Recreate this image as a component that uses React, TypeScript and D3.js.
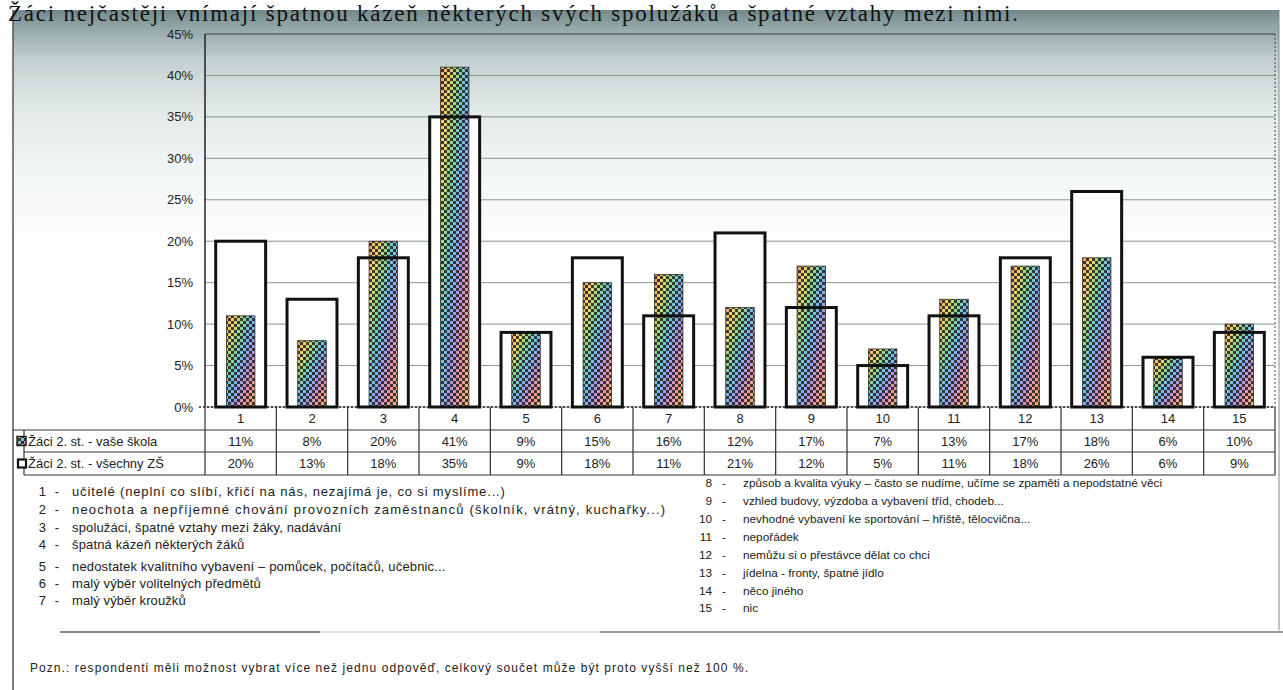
import React from "react";
import * as d3 from "d3";

// values (percent)
const categories = ["1", "2", "3", "4", "5", "6", "7", "8", "9", "10", "11", "12", "13", "14", "15"];
const schoolValues = [11, 8, 20, 41, 9, 15, 16, 12, 17, 7, 13, 17, 18, 6, 10];
const allValues = [20, 13, 18, 35, 9, 18, 11, 21, 12, 5, 11, 18, 26, 6, 9];
const yTicks = [0, 5, 10, 15, 20, 25, 30, 35, 40, 45];
const seriesNames = ["Žáci 2. st. - vaše škola", "Žáci 2. st. - všechny ZŠ"];

const legendLeft = [
  "učitelé (neplní co slíbí, křičí na nás, nezajímá je, co si myslíme...)",
  "neochota a nepříjemné chování provozních zaměstnanců (školník, vrátný, kuchařky...)",
  "spolužáci, špatné vztahy mezi žáky, nadávání",
  "špatná kázeň některých žáků",
  "nedostatek kvalitního vybavení – pomůcek, počítačů, učebnic...",
  "malý výběr volitelných předmětů",
  "malý výběr kroužků",
];
const legendRight = [
  "způsob a kvalita výuky – často se nudíme, učíme se zpaměti a nepodstatné věci",
  "vzhled budovy, výzdoba a vybavení tříd, chodeb...",
  "nevhodné vybavení ke sportování – hřiště, tělocvična...",
  "nepořádek",
  "nemůžu si o přestávce dělat co chci",
  "jídelna - fronty, špatné jídlo",
  "něco jiného",
  "nic",
];

const title = "Žáci nejčastěji vnímají špatnou kázeň některých svých spolužáků a  špatné vztahy mezi nimi.";
const note = "Pozn.: respondenti měli možnost vybrat více než jednu odpověď, celkový součet může být proto vyšší než 100 %.";

const W = 1283;
const H = 690;
const plotLeft = 205;
const plotRight = 1275;
const plotTop = 34;
const plotBottom = 407;

const font = "'Liberation Sans', Arial, sans-serif";

const App: React.FC = () => {
  const x = d3.scaleBand<string>().domain(categories).range([plotLeft, plotRight]).padding(0);
  const y = d3.scaleLinear().domain([0, 45]).range([plotBottom, plotTop]);

  const bw = x.bandwidth();
  const outerW = bw * 0.7;
  const innerW = bw * 0.4;

  const rowTop = 430;
  const rowMid = 452;
  const rowBot = 475;

  const leftRows = [491, 509, 527, 544, 566, 583, 600];
  // the scan stretches the first two lines a little
  const leftSpacing = [0.85, 1.2, 0.15, 0.15, 0.15, 0.1, 0.1];

  return (
    <svg width={W} height={H} style={{ position: "absolute", left: 0, top: 0, background: "#fff" }}>
      <defs>
        <linearGradient id="scanBg" x1="0" y1="0" x2="0" y2="1">
          <stop offset="0" stopColor="#72888a" />
          <stop offset="0.06" stopColor="#8fa3a3" />
          <stop offset="0.2" stopColor="#c3d0cf" />
          <stop offset="0.4" stopColor="#e3eaea" />
          <stop offset="0.7" stopColor="#f5f8f8" />
          <stop offset="1" stopColor="#ffffff" />
        </linearGradient>
        <linearGradient id="rainbow" x1="0" y1="0" x2="1" y2="1">
          <stop offset="0" stopColor="#f09a6a" />
          <stop offset="0.16" stopColor="#f5d56a" />
          <stop offset="0.32" stopColor="#8fd68a" />
          <stop offset="0.48" stopColor="#6fbfeb" />
          <stop offset="0.64" stopColor="#a996e6" />
          <stop offset="0.8" stopColor="#f094a0" />
          <stop offset="1" stopColor="#f2bb62" />
        </linearGradient>
        <pattern id="checker" width="6" height="6" patternUnits="userSpaceOnUse">
          <rect x="0" y="0" width="3" height="3" fill="#1e1e1e" opacity="0.85" />
          <rect x="3" y="3" width="3" height="3" fill="#1e1e1e" opacity="0.85" />
        </pattern>
      </defs>

      {/* scanned page frame */}
      <rect x={13} y={10} width={1266} height={250} fill="url(#scanBg)" />
      <line x1={13} x2={13} y1={10} y2={690} stroke="#555" strokeWidth={1.5} />
      <line x1={1279} x2={1279} y1={10} y2={630} stroke="#888" strokeWidth={1} />

      {/* title at the very top of the page */}
      <text
        x={8}
        y={21}
        fontFamily="'Liberation Serif', 'Times New Roman', serif"
        fontSize={23}
        textLength={1010}
        lengthAdjust="spacing"
        fill="#111"
      >
        {title}
      </text>

      {/* gridlines */}
      {yTicks.map((t) => (
        <line
          key={"g" + t}
          x1={plotLeft}
          x2={plotRight}
          y1={y(t)}
          y2={y(t)}
          stroke={t === 45 ? "#5f6a6a" : "#8a9494"}
          strokeWidth={t === 45 ? 1.5 : 1}
        />
      ))}
      <line x1={plotRight} x2={plotRight} y1={plotTop} y2={plotBottom} stroke="#444" strokeDasharray="2,2" />
      <line x1={plotLeft} x2={plotLeft} y1={plotTop} y2={plotBottom} stroke="#222" strokeWidth={1.5} />
      <line x1={plotLeft - 6} x2={plotRight} y1={plotBottom} y2={plotBottom} stroke="#222" strokeDasharray="2,2" strokeWidth={1.5} />

      {/* y tick labels */}
      {yTicks.map((t) => (
        <text
          key={"t" + t}
          x={193}
          y={y(t)}
          dy="0.35em"
          textAnchor="end"
          fontFamily={font}
          fontSize={13}
          fill="#222"
        >
          {t + "%"}
        </text>
      ))}

      {/* bars */}
      {categories.map((c, i) => {
        const cx = (x(c) ?? 0) + bw / 2;
        const oy = y(allValues[i]);
        const iy = y(schoolValues[i]);
        return (
          <g key={"b" + c}>
            <rect x={cx - outerW / 2} y={oy} width={outerW} height={plotBottom - oy} fill="#fff" />
            <rect x={cx - innerW / 2} y={iy} width={innerW} height={plotBottom - iy} fill="url(#rainbow)" />
            <rect
              x={cx - innerW / 2}
              y={iy}
              width={innerW}
              height={plotBottom - iy}
              fill="url(#checker)"
              stroke="#333"
              strokeWidth={0.8}
            />
            <rect
              x={cx - outerW / 2}
              y={oy}
              width={outerW}
              height={plotBottom - oy}
              fill="none"
              stroke="#111"
              strokeWidth={3}
            />
          </g>
        );
      })}

      {/* data table */}
      <line x1={13} x2={plotRight} y1={rowTop} y2={rowTop} stroke="#333" strokeWidth={1.2} />
      <line x1={24} x2={plotRight} y1={rowMid} y2={rowMid} stroke="#333" strokeWidth={1.2} />
      <line x1={24} x2={plotRight} y1={rowBot} y2={rowBot} stroke="#333" strokeWidth={1.2} />
      <line x1={24} x2={24} y1={rowTop} y2={rowBot} stroke="#333" strokeWidth={1.2} />
      <line x1={plotLeft} x2={plotLeft} y1={plotBottom} y2={rowBot} stroke="#333" strokeWidth={1.2} />
      {categories.map((c) => (
        <line
          key={"v" + c}
          x1={(x(c) ?? 0) + bw}
          x2={(x(c) ?? 0) + bw}
          y1={plotBottom}
          y2={rowBot}
          stroke="#333"
          strokeWidth={1.2}
        />
      ))}
      {categories.map((c) => (
        <text
          key={"h" + c}
          x={(x(c) ?? 0) + bw / 2}
          y={(plotBottom + rowTop) / 2}
          dy="0.35em"
          textAnchor="middle"
          fontFamily={font}
          fontSize={13}
          fill="#222"
        >
          {c}
        </text>
      ))}
      {[schoolValues, allValues].map((vals, r) =>
        vals.map((v, i) => (
          <text
            key={"c" + r + "-" + i}
            x={(x(categories[i]) ?? 0) + bw / 2}
            y={r === 0 ? (rowTop + rowMid) / 2 : (rowMid + rowBot) / 2}
            dy="0.35em"
            textAnchor="middle"
            fontFamily={font}
            fontSize={13}
            fill="#222"
          >
            {v + "%"}
          </text>
        ))
      )}
      {/* row labels with legend keys */}
      <rect x={17} y={(rowTop + rowMid) / 2 - 4.5} width={9} height={9} fill="url(#rainbow)" stroke="#222" strokeWidth={1.5} />
      <rect x={17} y={(rowTop + rowMid) / 2 - 4.5} width={9} height={9} fill="url(#checker)" />
      <rect x={18} y={(rowMid + rowBot) / 2 - 4} width={8} height={8} fill="#fff" stroke="#111" strokeWidth={2.2} />
      {seriesNames.map((s, r) => (
        <text
          key={"s" + r}
          x={28}
          y={r === 0 ? (rowTop + rowMid) / 2 : (rowMid + rowBot) / 2}
          dy="0.35em"
          fontFamily={font}
          fontSize={13}
          fill="#222"
        >
          {s}
        </text>
      ))}

      {/* category descriptions */}
      {legendLeft.map((t, i) => (
        <g key={"l" + i} fontFamily={font} fontSize={13} fill="#222">
          <text x={46} y={leftRows[i]} dy="0.35em" textAnchor="end">{i + 1}</text>
          <text x={57} y={leftRows[i]} dy="0.35em" textAnchor="middle">-</text>
          <text x={72} y={leftRows[i]} dy="0.35em" letterSpacing={leftSpacing[i]}>{t}</text>
        </g>
      ))}
      {legendRight.map((t, i) => {
        const yy = 483 + i * 17.9;
        return (
          <g key={"r" + i} fontFamily={font} fontSize={11.8} fill="#222">
            <text x={712} y={yy} dy="0.35em" textAnchor="end">{i + 8}</text>
            <text x={724} y={yy} dy="0.35em" textAnchor="middle">-</text>
            <text x={743} y={yy} dy="0.35em">{t}</text>
          </g>
        );
      })}

      {/* separator and note */}
      <line x1={60} x2={320} y1={632} y2={632} stroke="#333" strokeWidth={1.5} opacity={0.8} />
      <line x1={320} x2={600} y1={632} y2={632} stroke="#999" strokeWidth={1} opacity={0.6} />
      <line x1={600} x2={1283} y1={632} y2={632} stroke="#444" strokeWidth={1.5} opacity={0.7} />
      <text
        x={30}
        y={668}
        dy="0.35em"
        fontFamily={font}
        fontSize={12}
        textLength={718}
        lengthAdjust="spacing"
        fill="#222"
      >
        {note}
      </text>
    </svg>
  );
};

export default App;
